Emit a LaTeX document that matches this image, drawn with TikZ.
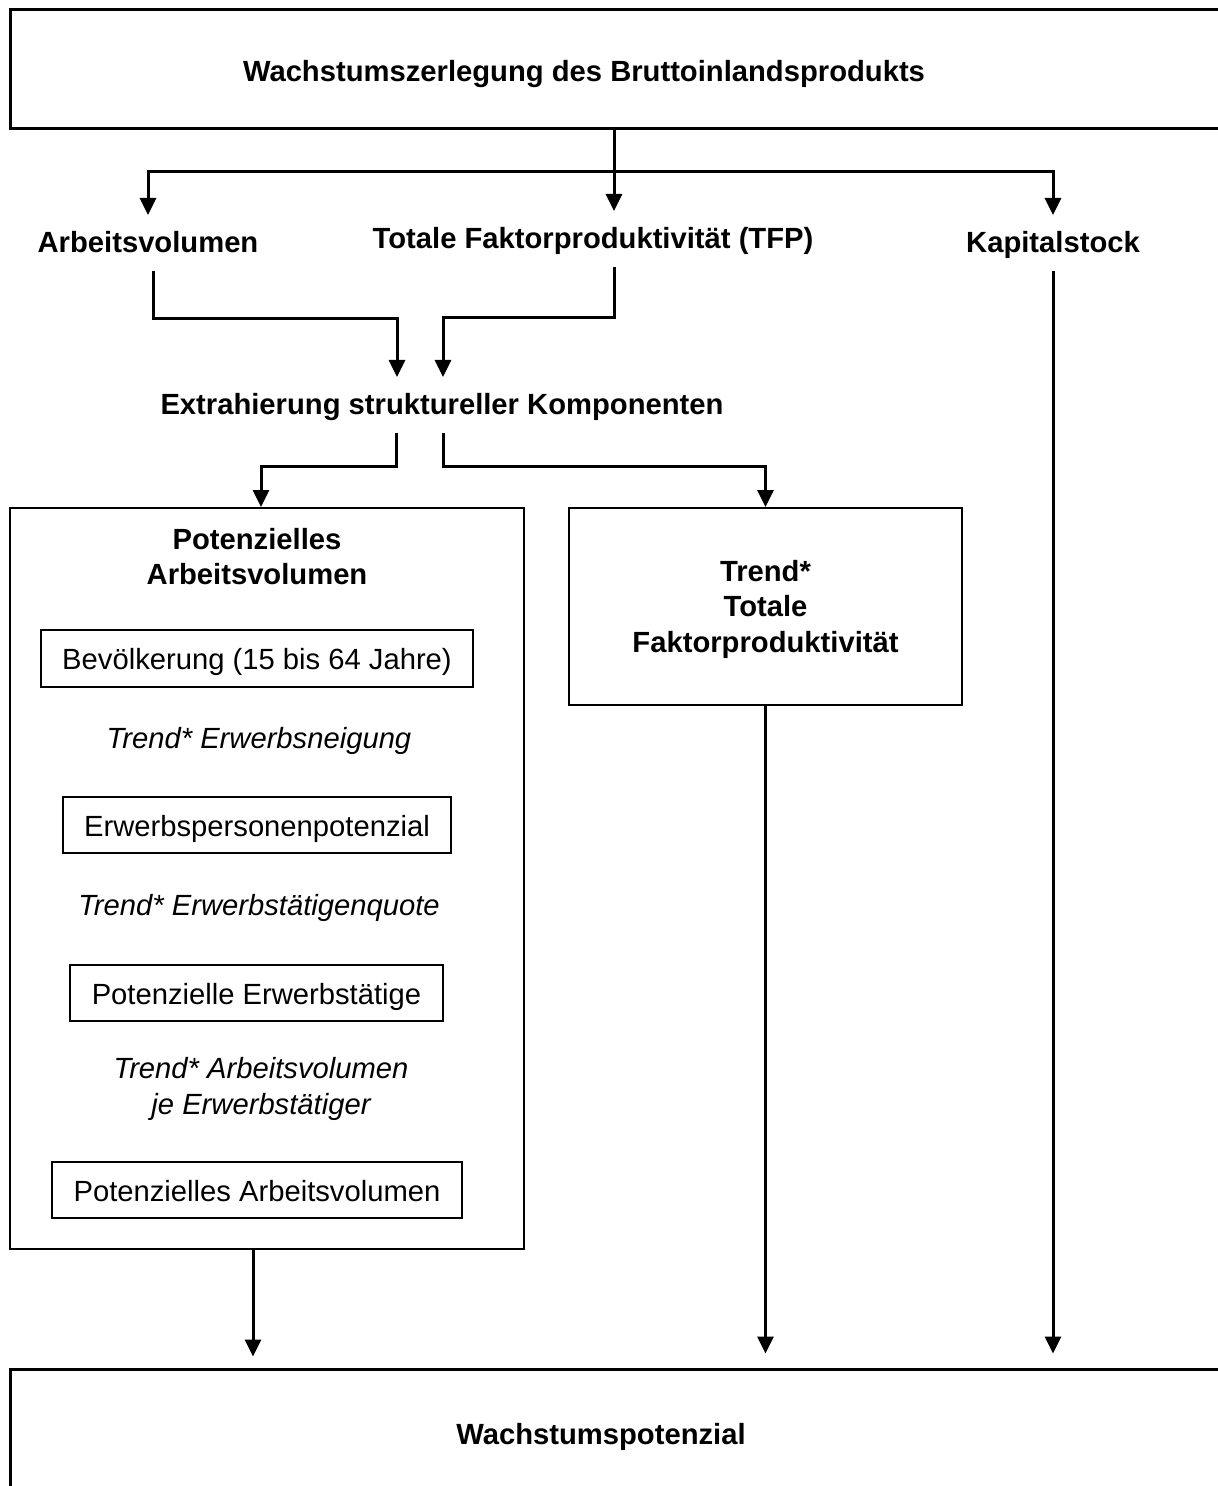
\documentclass[tikz,border=0pt]{standalone}
\usepackage{fontspec}
\setmainfont{Liberation Sans}
\usetikzlibrary{arrows.meta}

\begin{document}
\begin{tikzpicture}[x=0.5pt,y=-0.5pt,
  txt/.style={font=\fontsize{14.6pt}{17.7pt}\selectfont, align=center, inner sep=0pt},
  title/.style={txt, font=\fontsize{14.6pt}{17.75pt}\selectfont\bfseries},
  head/.style={title, text height=13pt, text depth=3pt, outer ysep=6pt},
  trend/.style={txt, font=\fontsize{14.6pt}{18pt}\selectfont\itshape},
  bigbox/.style={draw, line width=1.5pt, inner sep=0pt, minimum width=610pt},
  box/.style={draw, line width=1pt, inner sep=0pt},
  ibox/.style={box, txt, text height=12pt, text depth=1pt, minimum height=28pt},
  arr/.style={line width=1.5pt, -{Triangle[length=8.5pt,width=8pt]}}]
  \useasboundingbox (0,0) rectangle (1217,1486);

  \node[bigbox, minimum height=59.5pt] (bip) at (620,69.5) {};
  \node[head, outer ysep=0pt] (biptxt) at (584,72) {Wachstumszerlegung des Bruttoinlandsprodukts};

  \node[head] (arbeit) at (148,243) {Arbeitsvolumen};
  \node[head] (tfp) at (593,239) {Totale Faktorproduktivität (TFP)};
  \node[head] (kapital) at (1053,243) {Kapitalstock};
  \node[head] (extr) at (442,405) {Extrahierung struktureller Komponenten};

  \node[box, minimum width=257pt, minimum height=370.5pt] (lbox) at (267,878.5) {};
  \node[title] (ltitle) at (257,556.5) {Potenzielles\\Arbeitsvolumen};
  \node[ibox, minimum width=216pt, minimum height=28.5pt] (bev) at (257,658.5) {Bevölkerung (15 bis 64 Jahre)};
  \node[trend] (neigung) at (259,741) {Trend* Erwerbsneigung};
  \node[ibox, minimum width=194pt] (epp) at (257,825) {Erwerbspersonenpotenzial};
  \node[trend] (quote) at (259,908) {Trend* Erwerbstätigenquote};
  \node[ibox, minimum width=186.5pt] (pet) at (256.5,993) {Potenzielle Erwerbstätige};
  \node[trend] (avje) at (261,1089) {Trend* Arbeitsvolumen\\je Erwerbstätiger};
  \node[ibox, minimum width=205pt] (pav) at (257,1190) {Potenzielles Arbeitsvolumen};

  \node[box, minimum width=196.5pt, minimum height=98.5pt] (tfptrend) at (765.5,606.5) {};
  \node[title] (tfptxt) at (765.5,609) {Trend*\\Totale\\Faktorproduktivität};

  \node[bigbox, minimum height=70pt] (wp) at (620,1439) {};
  \node[head, outer ysep=0pt] (wptxt) at (601,1434) {Wachstumspotenzial};

  \coordinate (split) at (614,172);
  \coordinate (inL) at (397,319);
  \coordinate (inR) at (443,318);
  \coordinate (outL) at (396,466);
  \coordinate (outR) at (443,466);
  \coordinate (xA) at (253,0);

  \draw[arr] (bip.south -| split) -- (split |- tfp.north);
  \draw[arr] (split) -| (arbeit.north);
  \draw[arr] (split) -| (kapital.north);

  \draw[arr] ([xshift=2.5pt]arbeit.south) |- (inL) -- (inL |- extr.north);
  \draw[arr] ([xshift=10.5pt]tfp.south) |- (inR) -- (inR |- extr.north);

  \draw[arr] (outL |- extr.south) -- (outL) -| ([xshift=-3pt]lbox.north);
  \draw[arr] (outR |- extr.south) -- (outR) -| (tfptrend.north);

  \draw[arr, shorten >=5.5pt] (xA |- lbox.south) -- (xA |- wp.north);
  \draw[arr, shorten >=7pt] (tfptrend.south) -- (tfptrend.south |- wp.north);
  \draw[arr, shorten >=7pt] (kapital.south) -- (kapital.south |- wp.north);
\end{tikzpicture}
\end{document}
